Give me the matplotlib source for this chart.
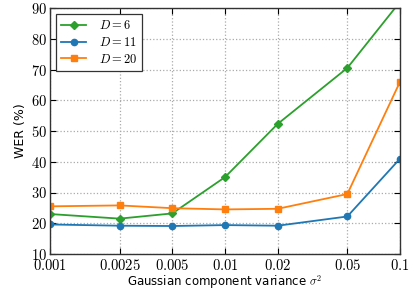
import matplotlib
matplotlib.use("Agg")
import matplotlib.pyplot as plt
from matplotlib.ticker import FixedLocator, FixedFormatter, NullLocator

plt.rcParams['mathtext.fontset'] = 'cm'

variances = [0.001, 0.0025, 0.005, 0.01, 0.02, 0.05, 0.1]
xtick_labels = ['0.001', '0.0025', '0.005', '0.01', '0.02', '0.05', '0.1']
wer_d6 = [23.0, 21.5, 23.2, 35.0, 52.3, 70.5, 92.0]
wer_d11 = [19.6, 19.2, 19.1, 19.4, 19.2, 22.2, 41.0]
wer_d20 = [25.5, 25.8, 24.9, 24.5, 24.7, 29.5, 66.0]
yticks = [10, 20, 30, 40, 50, 60, 70, 80, 90]

fig = plt.figure(figsize=(4.13, 2.89), dpi=100)
ax = fig.add_axes([50/413, 35/289, 350/413, 246/289])

ax.plot(variances, wer_d6, color='#2ca02c', marker='D', markersize=4.5, lw=1.3, label='$D = 6$')
ax.plot(variances, wer_d11, color='#1f77b4', marker='o', markersize=4.5, lw=1.3, label='$D = 11$')
ax.plot(variances, wer_d20, color='#ff7f0e', marker='s', markersize=4.5, lw=1.3, label='$D = 20$')

ax.set_xscale('log')
ax.set_xlim(0.001, 0.1)
ax.set_ylim(10, 90)
ax.xaxis.set_major_locator(FixedLocator(variances))
ax.xaxis.set_major_formatter(FixedFormatter(['$' + s + '$' for s in xtick_labels]))
ax.xaxis.set_minor_locator(NullLocator())
ax.set_yticks(yticks)
ax.set_yticklabels(['$%d$' % v for v in yticks])

ax.tick_params(direction='in', top=True, right=True, length=4, labelsize=10.5, pad=2)
ax.tick_params(axis='x', pad=3)
ax.grid(True, linestyle=':', color='#aaaaaa', lw=0.9)
for s in ax.spines.values():
    s.set_linewidth(1.0)
    s.set_color('#333333')

ax.set_ylabel('WER (%)', fontsize=9, labelpad=3)
ax.set_xlabel('Gaussian component variance $\\sigma^2$', fontsize=8.5, labelpad=0)

leg = ax.legend(loc='upper left', fontsize=9, fancybox=False, edgecolor='#333333',
                framealpha=1, borderaxespad=0.5, handlelength=2.0, labelspacing=0.3,
                handletextpad=1.0, borderpad=0.4)
leg.get_frame().set_linewidth(0.9)

fig.savefig('out.png', dpi=100)
